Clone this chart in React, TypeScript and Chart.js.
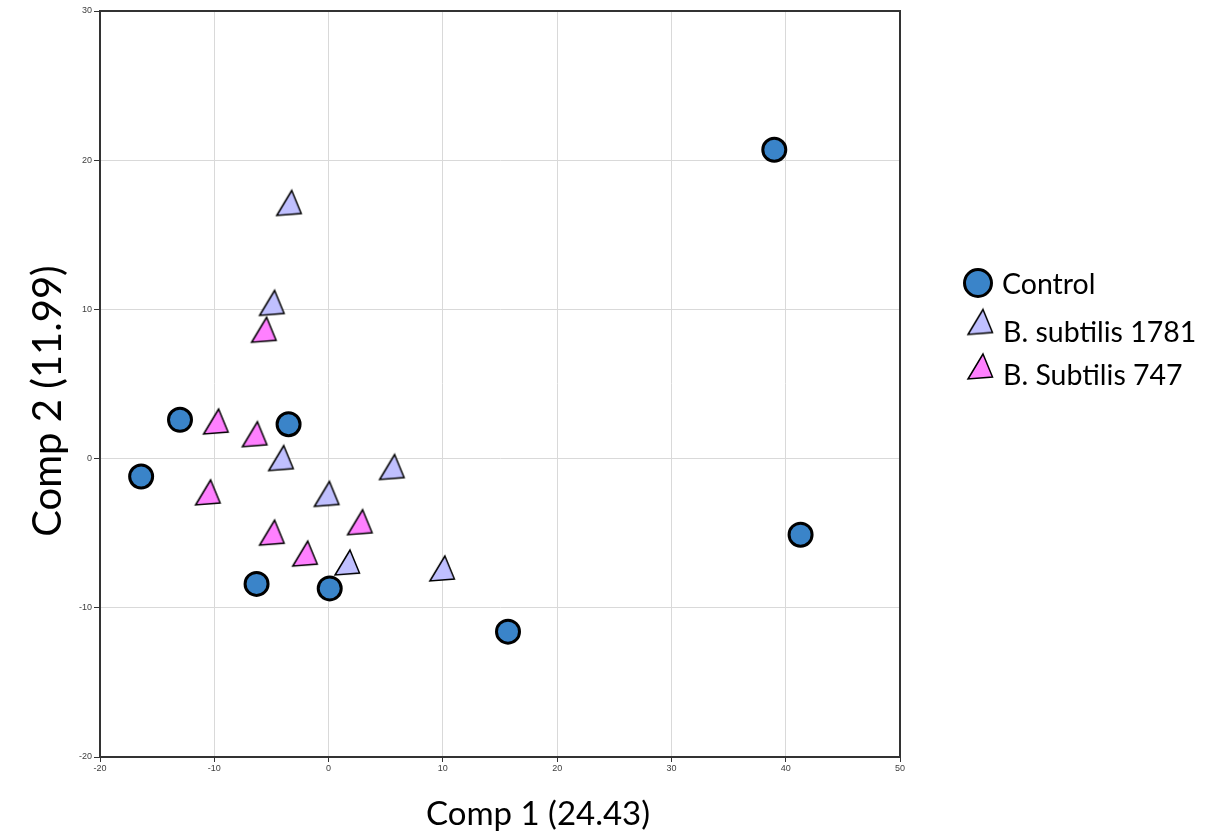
import React, { useEffect, useRef } from "react";
import { Chart, registerables } from "chart.js";

Chart.register(...registerables);

// PCA scores, one pair of arrays per group
const controlX = [-16.4, -13.0, -3.5, -6.3, 0.1, 15.7, 39.0, 41.3];
const controlY = [-1.2, 2.6, 2.3, -8.4, -8.7, -11.6, 20.7, -5.1];

const subtilis1781X = [-3.4, -4.9, -4.1, 5.6, -0.1, 1.7, 10.0];
const subtilis1781Y = [16.9, 10.2, -0.2, -0.8, -2.6, -7.2, -7.6];

const subtilis747X = [-5.6, -9.8, -6.4, -10.5, -4.9, -2.0, 2.8];
const subtilis747Y = [8.4, 2.25, 1.4, -2.5, -5.2, -6.6, -4.5];

const seriesNames = ["Control", "B. subtilis 1781", "B. Subtilis 747"];
const xTitle = "Comp 1 (24.43)";
const yTitle = "Comp 2 (11.99)";

const xMin = -20;
const xMax = 50;
const yMin = -20;
const yMax = 30;
const tickStep = 10;

const CONTROL_FILL = "#3a84c9";
const LAVENDER_FILL = "#c0c0ff";
const PINK_FILL = "#ff80ff";
const FAMILY = "Lato, 'Open Sans', sans-serif";

const toPoints = (xs: number[], ys: number[]) => xs.map((x, i) => ({ x, y: ys[i] }));

// Slightly skewed triangle marker, centred on its centroid
function makeTriangle(fill: string): HTMLCanvasElement {
  const c = document.createElement("canvas");
  c.width = 40;
  c.height = 40;
  const g = c.getContext("2d")!;
  g.beginPath();
  g.moveTo(20 + 2, 20 - 16);
  g.lineTo(20 + 11.5, 20 + 7);
  g.lineTo(20 - 13, 20 + 9);
  g.closePath();
  g.fillStyle = fill;
  g.fill();
  g.lineWidth = 1.5;
  g.strokeStyle = "#000";
  g.lineJoin = "miter";
  g.stroke();
  return c;
}

export default function App() {
  const canvasRef = useRef<HTMLCanvasElement | null>(null);

  useEffect(() => {
    const canvas = canvasRef.current;
    if (!canvas) return;

    const lavenderTri = makeTriangle(LAVENDER_FILL);
    const pinkTri = makeTriangle(PINK_FILL);

    const frame = {
      id: "plotFrame",
      beforeDatasetsDraw(chart: any) {
        const { ctx, chartArea } = chart;
        ctx.save();
        ctx.strokeStyle = "#333";
        ctx.lineWidth = 2;
        ctx.strokeRect(
          chartArea.left,
          chartArea.top,
          chartArea.right - chartArea.left,
          chartArea.bottom - chartArea.top
        );
        ctx.restore();
      },
    };

    const annotations = {
      id: "titlesAndLegend",
      afterDraw(chart: any) {
        const { ctx } = chart;
        ctx.save();
        ctx.fillStyle = "#000";
        ctx.textBaseline = "alphabetic";

        // axis titles
        ctx.textAlign = "center";
        ctx.font = `33px ${FAMILY}`;
        ctx.fillText(xTitle, 538, 825);
        ctx.save();
        ctx.translate(61, 401);
        ctx.rotate(-Math.PI / 2);
        ctx.font = `40px ${FAMILY}`;
        ctx.fillText(yTitle, 0, 0);
        ctx.restore();

        // legend
        ctx.beginPath();
        ctx.arc(978, 283, 13.5, 0, Math.PI * 2);
        ctx.fillStyle = CONTROL_FILL;
        ctx.fill();
        ctx.lineWidth = 3;
        ctx.strokeStyle = "#000";
        ctx.stroke();
        ctx.drawImage(lavenderTri, 981 - 20, 325.5 - 20);
        ctx.drawImage(pinkTri, 981 - 20, 370 - 20);

        ctx.fillStyle = "#000";
        ctx.textAlign = "left";
        ctx.font = `28.5px ${FAMILY}`;
        ctx.fillText(seriesNames[0], 1002, 294);
        ctx.fillText(seriesNames[1], 1003, 341.5);
        ctx.fillText(seriesNames[2], 1003, 385);
        ctx.restore();
      },
    };

    const tickFont = { family: "'Liberation Sans', Arial, sans-serif", size: 9 };

    const chart = new Chart(canvas, {
      type: "scatter",
      data: {
        datasets: [
          {
            label: seriesNames[0],
            data: toPoints(controlX, controlY),
            pointStyle: "circle",
            pointRadius: 11.5,
            pointHoverRadius: 11.5,
            backgroundColor: CONTROL_FILL,
            borderColor: "#000",
            borderWidth: 3,
            pointHoverBorderWidth: 3,
            order: 0,
          },
          {
            label: seriesNames[1],
            data: toPoints(subtilis1781X, subtilis1781Y),
            pointStyle: lavenderTri,
            pointRadius: 12,
            backgroundColor: LAVENDER_FILL,
            borderColor: "#000",
            order: 2,
          },
          {
            label: seriesNames[2],
            data: toPoints(subtilis747X, subtilis747Y),
            pointStyle: pinkTri,
            pointRadius: 12,
            backgroundColor: PINK_FILL,
            borderColor: "#000",
            order: 1,
          },
        ],
      },
      options: {
        responsive: false,
        animation: false,
        events: [],
        layout: { autoPadding: false, padding: { top: 11, right: 323, bottom: 0, left: 0 } },
        plugins: {
          legend: { display: false },
          tooltip: { enabled: false },
        },
        scales: {
          x: {
            type: "linear",
            min: xMin,
            max: xMax,
            afterFit: (s: any) => {
              s.height = 76;
              s.paddingLeft = 0;
              s.paddingRight = 0;
            },
            ticks: { stepSize: tickStep, font: tickFont, color: "#404040", padding: 1, maxRotation: 0 },
            grid: { color: "#d9d9d9", lineWidth: 1, tickLength: 5, tickColor: "#333", tickWidth: 1 },
            border: { color: "#333", width: 2 },
          },
          y: {
            type: "linear",
            min: yMin,
            max: yMax,
            afterFit: (s: any) => {
              s.width = 100;
              s.paddingTop = 0;
              s.paddingBottom = 0;
            },
            ticks: { stepSize: tickStep, font: tickFont, color: "#404040", padding: 2 },
            grid: { color: "#d9d9d9", lineWidth: 1, tickLength: 6, tickColor: "#333", tickWidth: 1 },
            border: { color: "#333", width: 2 },
          },
        },
      },
      plugins: [frame, annotations],
    });

    return () => chart.destroy();
  }, []);

  return (
    <div style={{ position: "fixed", left: 0, top: 0, width: 1223, height: 833, background: "#fff" }}>
      <canvas ref={canvasRef} width={1223} height={833} style={{ display: "block" }} />
    </div>
  );
}
